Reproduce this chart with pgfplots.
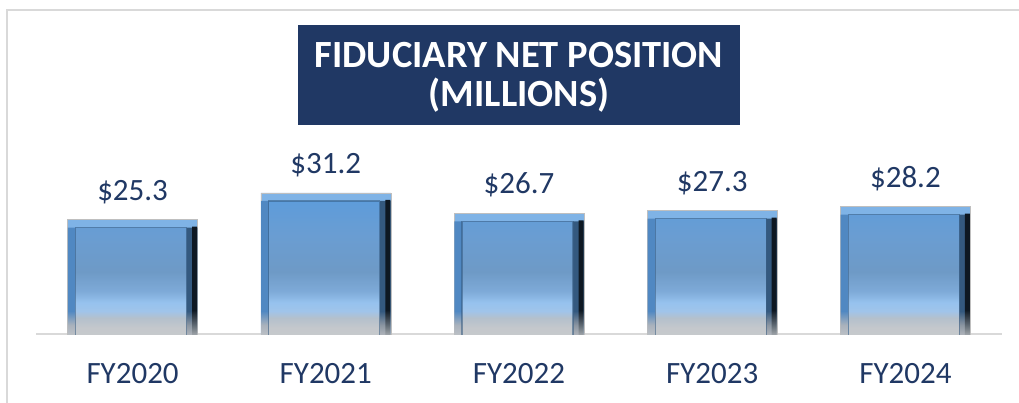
\documentclass[border=0pt]{standalone}
\usepackage{fontspec}
\setmainfont{Carlito}
\usepackage{pgfplots}
\usepackage{pgfplotstable}
\pgfplotsset{compat=1.18}

\definecolor{navy}{HTML}{203864}
\definecolor{edgegray}{HTML}{D9D9D9}
\definecolor{beveltop}{HTML}{7FB3E6}
\definecolor{bevelleft}{HTML}{5088C2}
\definecolor{bevelright}{HTML}{34597F}
\definecolor{beveldark}{HTML}{0E1822}
\definecolor{barbot}{HTML}{C8CACC}

% bar face, bottom (25bp) to top (75bp)
\pgfdeclareverticalshading{barshade}{100bp}{%
  color(0bp)=(barbot); color(25bp)=(barbot); color(30bp)=(rgb,255:red,196;green,200;blue,204);
  color(33.5bp)=(rgb,255:red,180;green,192;blue,204); color(36bp)=(rgb,255:red,160;green,196;blue,234);
  color(39bp)=(rgb,255:red,150;green,194;blue,238); color(43bp)=(rgb,255:red,126;green,170;blue,216);
  color(50bp)=(rgb,255:red,110;green,154;blue,198); color(62.5bp)=(rgb,255:red,106;green,157;blue,210);
  color(75bp)=(rgb,255:red,94;green,156;blue,218); color(100bp)=(rgb,255:red,94;green,156;blue,218)}
\pgfdeclareverticalshading{leftshade}{100bp}{%
  color(0bp)=(barbot); color(25bp)=(barbot); color(31bp)=(rgb,255:red,170;green,178;blue,188);
  color(36bp)=(bevelleft); color(75bp)=(bevelleft); color(100bp)=(bevelleft)}
\pgfdeclareverticalshading{rightshade}{100bp}{%
  color(0bp)=(barbot); color(25bp)=(barbot); color(31bp)=(rgb,255:red,140;green,150;blue,162);
  color(36bp)=(bevelright); color(75bp)=(bevelright); color(100bp)=(bevelright)}
\pgfdeclareverticalshading{darkshade}{100bp}{%
  color(0bp)=(barbot); color(25bp)=(barbot); color(31bp)=(rgb,255:red,90;green,100;blue,110);
  color(36bp)=(beveldark); color(75bp)=(beveldark); color(100bp)=(beveldark)}

\pgfplotstableread{
x y
0 25.3
1 31.2
2 26.7
3 27.3
4 28.2
}\netpos

\begin{document}
\begin{tikzpicture}
\useasboundingbox (0,0) rectangle (1019pt,402pt);
\draw[edgegray, line width=1.5pt] (7pt,-5pt) -- (7pt,392pt) -- (1030pt,392pt);

\begin{axis}[
  at={(36pt,68pt)}, anchor=south west,
  width=966pt, height=271.2pt, scale only axis,
  ymin=0, ymax=60, xmin=-0.5, xmax=4.5,
  axis x line*=bottom, axis y line=none,
  x axis line style={draw=edgegray, line width=1.5pt, -},
  xtick=data, xticklabels={FY2020,FY2021,FY2022,FY2023,FY2024},
  major tick length=0pt, ytick=\empty,
  xticklabel style={font=\fontsize{31}{31}\selectfont, text=navy, anchor=base, yshift=-49pt},
  ybar, bar width=130pt, bar shift=0pt,
  /pgf/number format/assume math mode=true,
  every node near coord/.append style={font=\fontsize{31}{31}\selectfont, text=navy, anchor=base, yshift=19.5pt},
]
% outer bar: top bevel colour, labels
\addplot[draw=gray!50, line width=0.6pt, fill=beveltop,
  nodes near coords={\$\pgfmathprintnumber[fixed,precision=1,fixed zerofill]{\pgfplotspointmeta}}]
  table[x=x, y=y] {\netpos};
% left bevel
\addplot[draw=none, shading=leftshade, bar width=8pt, bar shift=-60.7pt, yshift=-8pt]
  table[x=x, y=y] {\netpos};
% right bevel, fading to black at the edge
\addplot[draw=none, shading=rightshade, bar width=11pt, bar shift=59.2pt, yshift=-8pt]
  table[x=x, y=y] {\netpos};
\addplot[draw=none, shading=darkshade, bar width=5pt, bar shift=62pt, yshift=-7pt]
  table[x=x, y=y] {\netpos};
% face
\addplot[draw=bevelright, draw opacity=0.55, line width=1.2pt,
  shading=barshade, bar width=111pt, bar shift=-1.5pt, yshift=-8pt]
  table[x=x, y=y] {\netpos};
\end{axis}

\node[fill=navy, minimum width=442pt, minimum height=100pt, inner sep=0pt]
  at (519pt,327pt) {};
\node[text=white, align=center, font=\fontsize{38.5}{39}\selectfont\bfseries, inner sep=0pt]
  at (519pt,324.5pt) {FIDUCIARY NET POSITION\\(MILLIONS)};
\end{tikzpicture}
\end{document}
